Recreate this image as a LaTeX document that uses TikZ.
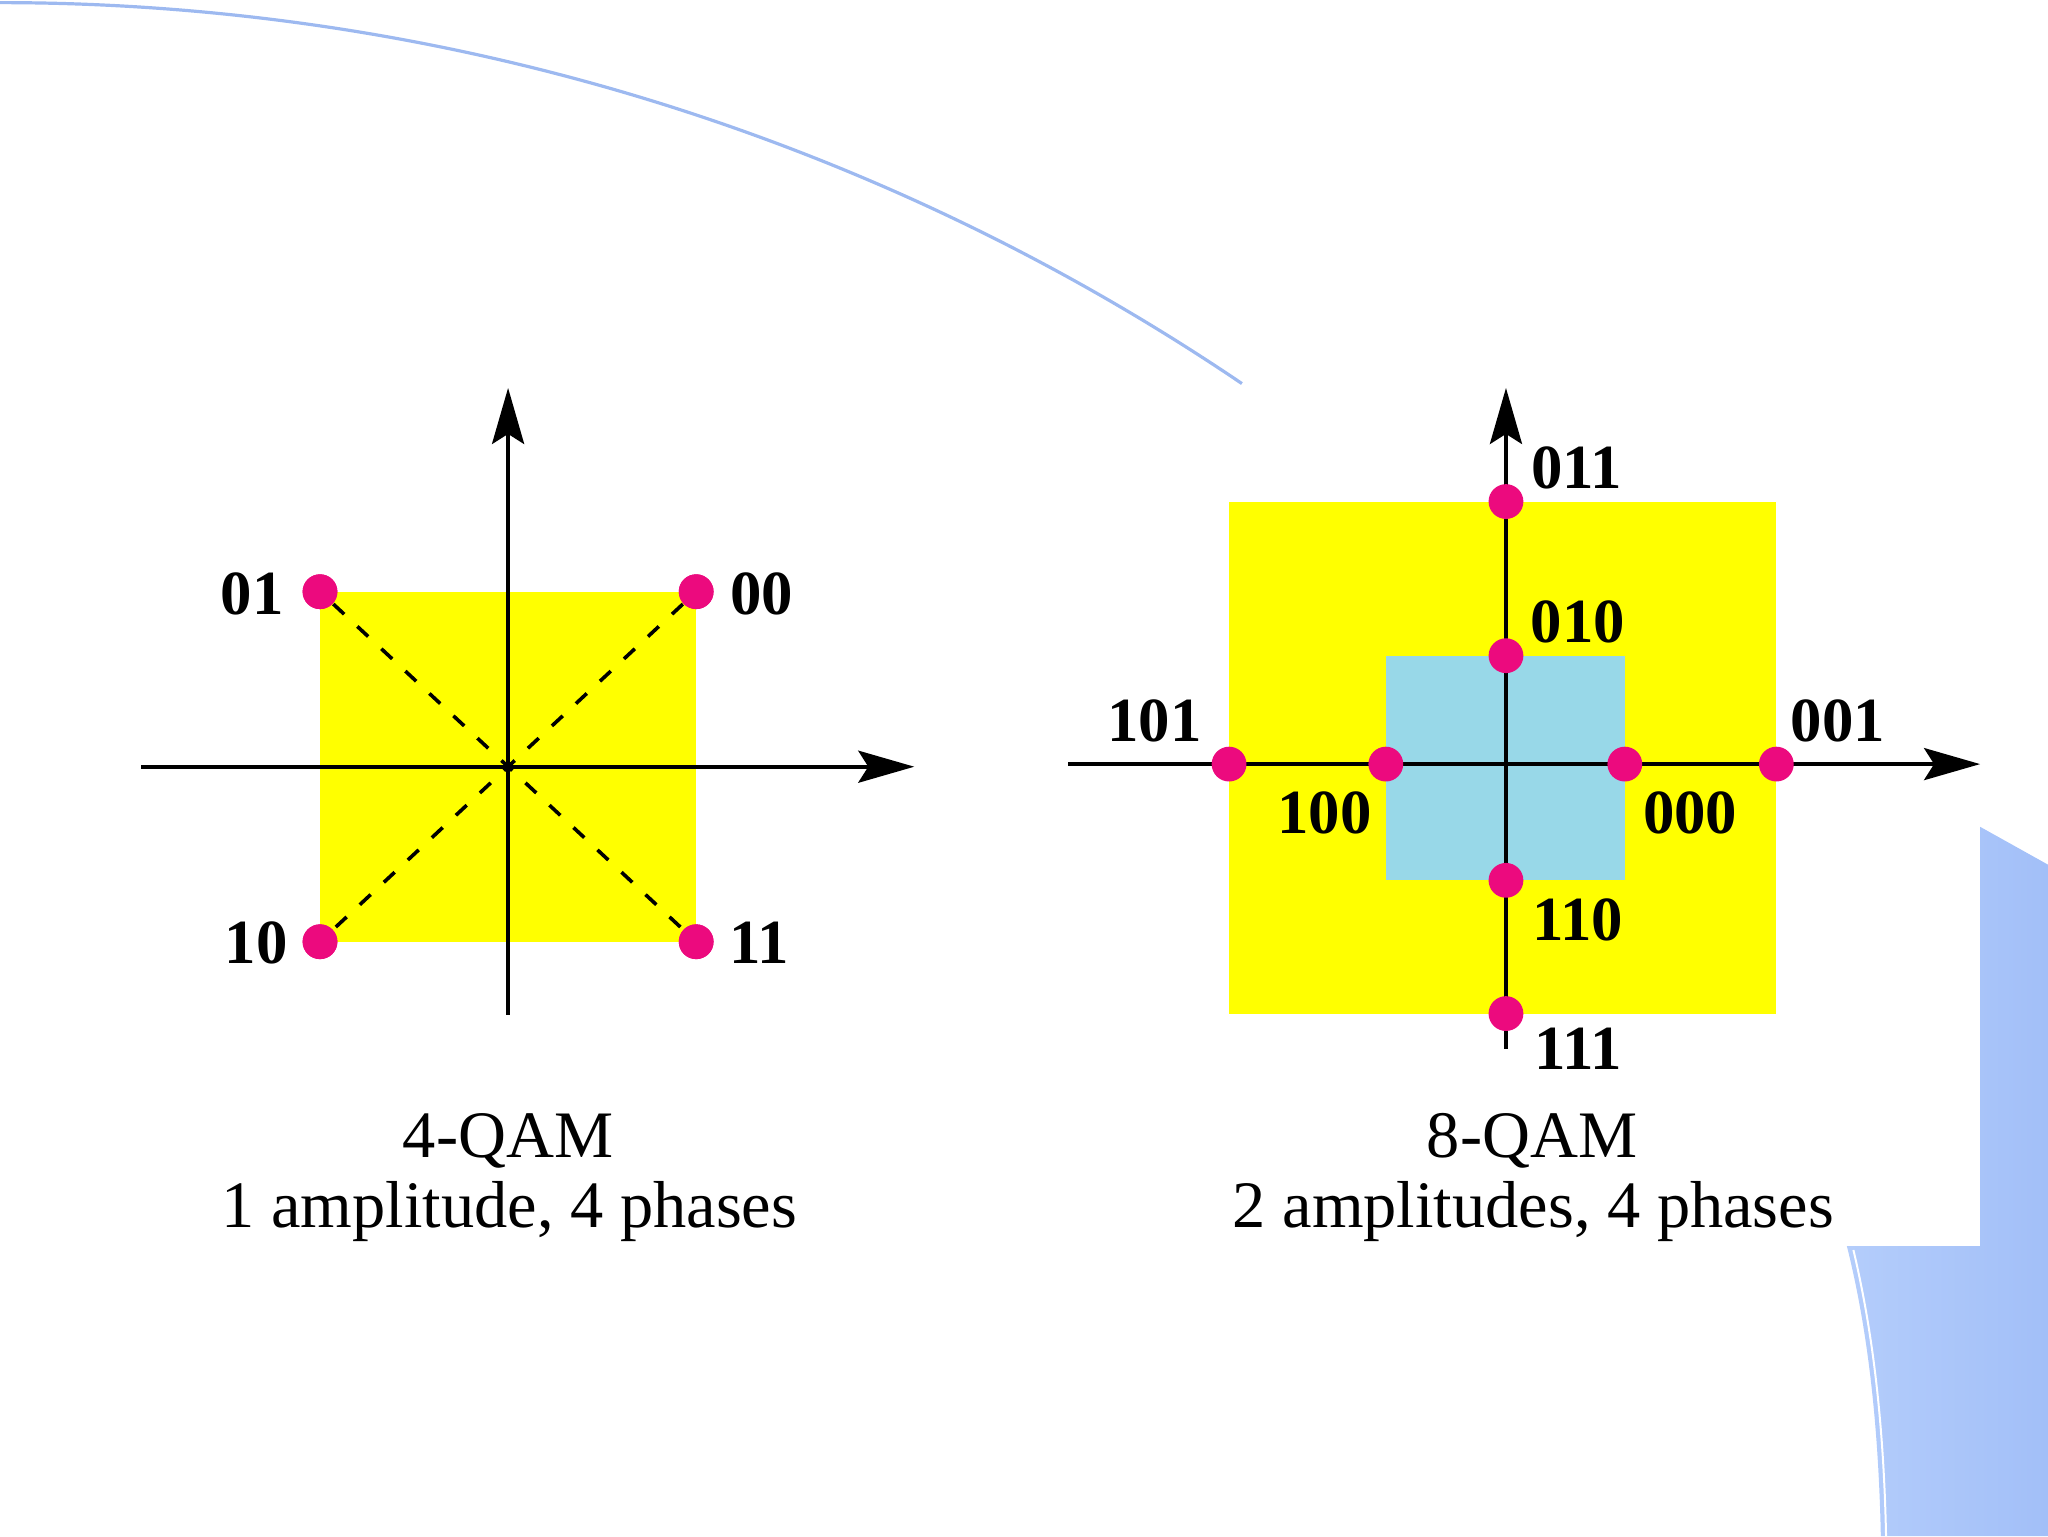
\documentclass[tikz,border=0pt]{standalone}
\usepackage{fontspec}
\setmainfont{Liberation Serif}
\usetikzlibrary{arrows.meta}
\definecolor{dotc}{HTML}{EC0A7E}
\definecolor{yel}{HTML}{FFFF00}
\definecolor{cyanbox}{HTML}{98D8E8}
\definecolor{decol}{HTML}{B4CDFB}
\definecolor{decor}{HTML}{A2BFF8}
\definecolor{decoline}{HTML}{9DB9F0}
\begin{document}
\begin{tikzpicture}[x=0.3265pt,y=-0.3265pt,
  axis/.style={line width=1pt,-{Stealth[length=14pt,width=8pt,inset=2.5pt]}},
  dot/.style={circle,fill=dotc,inner sep=0pt,minimum size=8.7pt},
  lab/.style={font=\fontsize{15.7}{15.7}\selectfont\bfseries,inner sep=0pt},
  captxt/.style={font=\fontsize{16.6}{20}\selectfont,inner sep=0pt,anchor=base},
  diag/.style={dash pattern=on 3.7pt off 4.5pt,line width=0.9pt}]
\useasboundingbox (0,0) rectangle (1568,1176);
% background decoration
\draw[decoline,line width=0.8pt] (0,2) arc[start angle=-90,end angle=-55.9,radius=1696];
\shade[left color=decol,right color=decor] (1516,633) -- (1568,662) -- (1568,1176) -- (1440,1176)
  .. controls (1438,1080) and (1428,1010) .. (1414,954) -- (1516,954) -- cycle;
\draw[white,line width=0.5pt] (1419,957) .. controls (1432,1012) and (1442,1080) .. (1444,1176);

% ---------- 4-QAM ----------
\fill[yel] (245,453) rectangle (533,721);
\node[dot] (p01) at (245,453) {};
\node[dot] (p00) at (533,453) {};
\node[dot] (p10) at (245,721) {};
\node[dot] (p11) at (533,721) {};
\draw[diag] (p01) -- (p11);
\draw[diag] (p00) -- (p10);
\coordinate (lxa) at (108,587);
\coordinate (lxb) at (700,587);
\coordinate (lya) at (389,777);
\coordinate (lyb) at (389,297);
\draw[axis] (lxa) -- (lxb);
\draw[axis] (lya) -- (lyb);
\node[dot] at (p01) {};
\node[dot] at (p00) {};
\node[dot] at (p10) {};
\node[dot] at (p11) {};
\node[lab] (l01) at (193,455) {01};
\node[lab] (l00) at (583,455) {00};
\node[lab] (l10) at (196,722) {10};
\node[lab] (l11) at (581,722) {11};
\node[captxt] (c1a) at (389,886) {4-QAM};
\node[captxt] (c1b) at (390,940) {1 amplitude, 4 phases};

% ---------- 8-QAM ----------
\fill[yel] (941,384) rectangle (1360,776);
\fill[cyanbox] (1061,502) rectangle (1244,674);
\coordinate (rxa) at (818,585);
\coordinate (rxb) at (1516,585);
\coordinate (rya) at (1153,803);
\coordinate (ryb) at (1153,297);
\draw[axis] (rxa) -- (rxb);
\draw[axis] (rya) -- (ryb);
\node[dot] (q011) at (1153,384) {};
\node[dot] (q010) at (1153,502) {};
\node[dot] (q101) at (941,585) {};
\node[dot] (q100) at (1061,585) {};
\node[dot] (q000) at (1244,585) {};
\node[dot] (q001) at (1360,585) {};
\node[dot] (q110) at (1153,674) {};
\node[dot] (q111) at (1153,776) {};
\node[lab] (m011) at (1207,358) {011};
\node[lab] (m010) at (1208,476) {010};
\node[lab] (m101) at (884,552) {101};
\node[lab] (m001) at (1407,552) {001};
\node[lab] (m100) at (1014,622) {100};
\node[lab] (m000) at (1294,622) {000};
\node[lab] (m110) at (1208,704) {110};
\node[lab] (m111) at (1208,803) {111};
\node[captxt] (c2a) at (1173,886) {8-QAM};
\node[captxt] (c2b) at (1174,940) {2 amplitudes, 4 phases};
\end{tikzpicture}
\end{document}
